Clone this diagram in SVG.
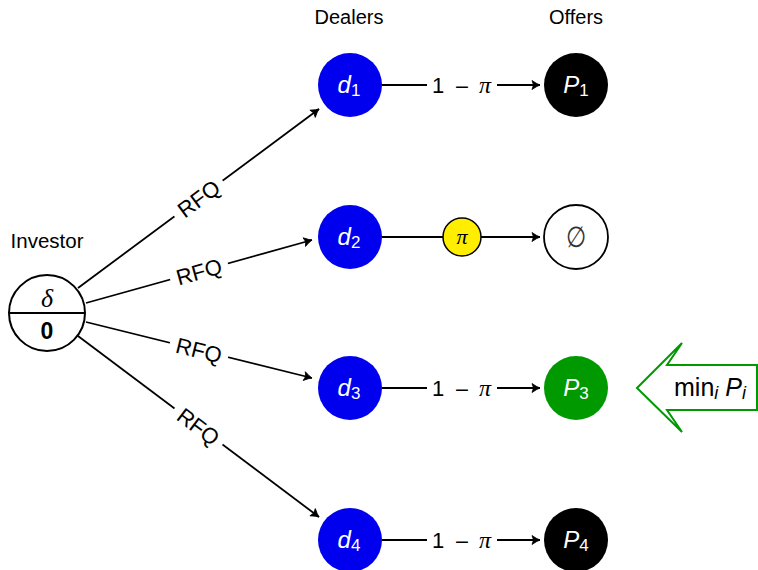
<svg xmlns="http://www.w3.org/2000/svg" width="758" height="570" viewBox="0 0 758 570">
<defs>
<marker id="arr" viewBox="-10 -6 12 12" refX="0" refY="0" markerWidth="12" markerHeight="12" markerUnits="userSpaceOnUse" orient="auto">
<path d="M-8,-4.5 Q-3,-1 0,0 Q-3,1 -8,4.5 L-6.5,0 Z" fill="#000" stroke="#000" stroke-width="0.8" stroke-linejoin="round"/>
</marker>
<style>
.lbl{font-family:"Liberation Sans",Arial,sans-serif;fill:#000;}
.edge{stroke:#000;stroke-width:1.8;fill:none;}
.dealer{fill:#0000ee;}
.nt{font-family:"Liberation Sans",Arial,sans-serif;fill:#fff;font-size:24px;}
.bg{fill:#fff;}
.rfq{font-family:"Liberation Sans",Arial,sans-serif;fill:#000;font-size:22px;}
.om{font-family:"Liberation Sans",Arial,sans-serif;fill:#000;font-size:22px;}
.ms{font-family:"Liberation Serif",serif;fill:#000;}
.mn{font-family:"DejaVu Sans",sans-serif;fill:#000;}
</style>
</defs>
<rect width="758" height="570" fill="#fff"/>

<g id="headers">
<text class="lbl" x="349" y="24" font-size="20" text-anchor="middle">Dealers</text>
<text class="lbl" x="576" y="24" font-size="20" text-anchor="middle">Offers</text>
<text class="lbl" x="47" y="248" font-size="20.5" text-anchor="middle">Investor</text>
</g>

<g id="connectors">
<line class="edge" x1="78" y1="288" x2="319" y2="109" marker-end="url(#arr)"/>
<line class="edge" x1="86" y1="303" x2="312" y2="240" marker-end="url(#arr)"/>
<line class="edge" x1="86" y1="322" x2="312" y2="378" marker-end="url(#arr)"/>
<line class="edge" x1="78" y1="336" x2="319" y2="517" marker-end="url(#arr)"/>
<line class="edge" x1="382" y1="85" x2="540" y2="85" marker-end="url(#arr)"/>
<line class="edge" x1="382" y1="237" x2="540" y2="237" marker-end="url(#arr)"/>
<line class="edge" x1="382" y1="388" x2="540" y2="388" marker-end="url(#arr)"/>
<line class="edge" x1="382" y1="540" x2="540" y2="540" marker-end="url(#arr)"/>

<g transform="translate(198.5,198.5) rotate(-36.6)">
<rect class="bg" x="-30" y="-13" width="60" height="26"/>
<text class="rfq" x="0" y="8" text-anchor="middle">RFQ</text>
</g>
<g transform="translate(199,271.5) rotate(-15.6)">
<rect class="bg" x="-30" y="-13" width="60" height="26"/>
<text class="rfq" x="0" y="8" text-anchor="middle">RFQ</text>
</g>
<g transform="translate(199,350) rotate(13.9)">
<rect class="bg" x="-30" y="-13" width="60" height="26"/>
<text class="rfq" x="0" y="8" text-anchor="middle">RFQ</text>
</g>
<g transform="translate(198.5,426.5) rotate(36.9)">
<rect class="bg" x="-30" y="-13" width="60" height="26"/>
<text class="rfq" x="0" y="8" text-anchor="middle">RFQ</text>
</g>

<g>
<rect class="bg" x="427" y="72" width="70" height="26"/>
<text class="om" y="93" text-anchor="middle"><tspan x="438">1</tspan><tspan class="mn" x="462" font-size="19">−</tspan><tspan class="ms" x="485" font-size="24" font-style="italic">π</tspan></text>
</g>
<g>
<rect class="bg" x="427" y="375" width="70" height="26"/>
<text class="om" y="396" text-anchor="middle"><tspan x="438">1</tspan><tspan class="mn" x="462" font-size="19">−</tspan><tspan class="ms" x="485" font-size="24" font-style="italic">π</tspan></text>
</g>
<g>
<rect class="bg" x="427" y="527" width="70" height="26"/>
<text class="om" y="548" text-anchor="middle"><tspan x="438">1</tspan><tspan class="mn" x="462" font-size="19">−</tspan><tspan class="ms" x="485" font-size="24" font-style="italic">π</tspan></text>
</g>
</g>

<g id="investor">
<circle cx="47" cy="313" r="38" fill="#fff" stroke="#000" stroke-width="2"/>
<line x1="9" y1="313" x2="85" y2="313" stroke="#000" stroke-width="2"/>
<text x="47" y="307" font-family="'Liberation Serif',serif" font-style="italic" font-size="26" text-anchor="middle" fill="#000">δ</text>
<text x="47" y="339" font-family="'Liberation Sans',Arial,sans-serif" font-weight="bold" font-size="23" text-anchor="middle" fill="#000">0</text>
</g>

<g id="d1"><circle class="dealer" cx="350" cy="85" r="32"/><text class="nt" x="349" y="93" text-anchor="middle"><tspan font-style="italic">d</tspan><tspan font-size="17" dy="3">1</tspan></text></g>
<g id="d2"><circle class="dealer" cx="350" cy="237" r="32"/><text class="nt" x="349" y="245" text-anchor="middle"><tspan font-style="italic">d</tspan><tspan font-size="17" dy="3">2</tspan></text></g>
<g id="d3"><circle class="dealer" cx="350" cy="388" r="32"/><text class="nt" x="349" y="396" text-anchor="middle"><tspan font-style="italic">d</tspan><tspan font-size="17" dy="3">3</tspan></text></g>
<g id="d4"><circle class="dealer" cx="350" cy="540" r="32"/><text class="nt" x="349" y="548" text-anchor="middle"><tspan font-style="italic">d</tspan><tspan font-size="17" dy="3">4</tspan></text></g>

<g id="pi"><circle cx="462" cy="237" r="19" fill="#ffee00" stroke="#000" stroke-width="1.5"/><text x="462" y="244" font-family="'Liberation Serif',serif" font-style="italic" font-size="22" text-anchor="middle" fill="#000">π</text></g>

<g id="P1"><circle cx="576" cy="85" r="32" fill="#000"/><text class="nt" x="576" y="93" text-anchor="middle"><tspan font-style="italic">P</tspan><tspan font-size="17" dy="3">1</tspan></text></g>
<g id="P2"><circle cx="576" cy="237" r="32" fill="#fff" stroke="#000" stroke-width="1.8"/><text x="0" y="0" transform="translate(576,247) scale(0.8,1)" font-family="'DejaVu Serif',serif" font-size="29" text-anchor="middle" fill="#333">∅</text></g>
<g id="P3"><circle cx="576" cy="388" r="32" fill="#009900"/><text class="nt" x="576" y="396" text-anchor="middle"><tspan font-style="italic">P</tspan><tspan font-size="17" dy="3">3</tspan></text></g>
<g id="P4"><circle cx="576" cy="540" r="32" fill="#000"/><text class="nt" x="576" y="548" text-anchor="middle"><tspan font-style="italic">P</tspan><tspan font-size="17" dy="3">4</tspan></text></g>

<g id="min">
<path d="M637,388 L682,343 L667,365 L757,365 L757,410 L667,410 L682,432 Z" fill="#fff" stroke="#009900" stroke-width="2" stroke-linejoin="miter"/>
<text class="lbl" x="710" y="396" font-size="25" text-anchor="middle">min<tspan font-size="18" font-style="italic" dy="3">i</tspan><tspan dy="-3"> </tspan><tspan font-style="italic">P</tspan><tspan font-size="18" font-style="italic" dy="3">i</tspan></text>
</g>
</svg>
